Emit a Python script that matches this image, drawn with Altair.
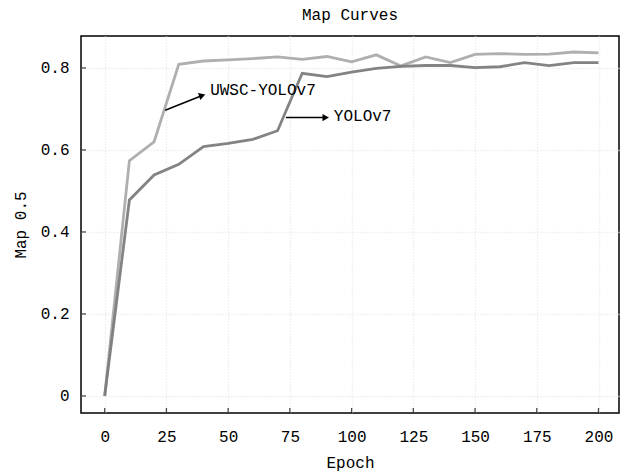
import altair as alt
import pandas as pd

epochs = [0, 10, 20, 30, 40, 50, 60, 70, 80, 90, 100, 110, 120, 130, 140, 150, 160, 170, 180, 190, 200]
uwsc = [0.0, 0.574, 0.620, 0.809, 0.817, 0.820, 0.823, 0.827, 0.821, 0.828, 0.815, 0.832,
        0.805, 0.827, 0.813, 0.833, 0.835, 0.833, 0.834, 0.839, 0.837]
yolo = [0.0, 0.478, 0.539, 0.565, 0.608, 0.616, 0.626, 0.647, 0.787, 0.779, 0.790, 0.799,
        0.804, 0.806, 0.806, 0.801, 0.803, 0.813, 0.806, 0.813, 0.813]
series_names = ["UWSC-YOLOv7", "YOLOv7"]

x_ticks = [0, 25, 50, 75, 100, 125, 150, 175, 200]
y_ticks = [0, 0.2, 0.4, 0.6, 0.8]

# annotation arrows (data coordinates)
arrow_labels = ["UWSC-YOLOv7", "YOLOv7"]
arrow_x0 = [24.5, 73.4]
arrow_y0 = [0.697, 0.679]
arrow_x1 = [39.5, 89.5]
arrow_y1 = [0.733, 0.679]
label_x = [42.7, 92.8]
label_y = [0.746, 0.684]

FONT = "Liberation Mono"

rows = []
for name, vals in zip(series_names, [uwsc, yolo]):
    for e, v in zip(epochs, vals):
        rows.append({"epoch": e, "map": v, "series": name})
df = pd.DataFrame(rows)

xscale = alt.Scale(domain=[-9.6, 208.3], nice=False, zero=False)
yscale = alt.Scale(domain=[-0.0415, 0.878], nice=False, zero=False)

lines = alt.Chart(df).mark_line(strokeWidth=2.8, opacity=0.95).encode(
    x=alt.X("epoch:Q", scale=xscale,
            axis=alt.Axis(values=x_ticks, title="Epoch", grid=True, ticks=False,
                          domain=False, labelPadding=15, titlePadding=10,
                          labelFlush=False)),
    y=alt.Y("map:Q", scale=yscale,
            axis=alt.Axis(values=y_ticks, title="Map 0.5", grid=True, ticks=False,
                          domain=False, labelPadding=12, titlePadding=12,
                          labelFlush=False,
                          labelExpr="datum.value == 0 ? '0' : format(datum.value, '.1f')")),
    color=alt.Color("series:N", scale=alt.Scale(domain=series_names,
                                                 range=["#ababab", "#7c7c7c"]),
                    legend=None),
)

xt = alt.Chart(pd.DataFrame({"t": x_ticks})).mark_tick(
    color="black", thickness=1.3, size=10, clip=True
).encode(x=alt.X("t:Q", scale=xscale), y=alt.value(377))

yt = alt.Chart(pd.DataFrame({"t": y_ticks})).mark_tick(
    color="black", thickness=1.3, size=10, clip=True
).encode(y=alt.Y("t:Q", scale=yscale), x=alt.value(0))

adf = pd.DataFrame({"label": arrow_labels, "x0": arrow_x0, "y0": arrow_y0,
                    "x1": arrow_x1, "y1": arrow_y1, "lx": label_x, "ly": label_y})

shafts = alt.Chart(adf).mark_rule(color="black", strokeWidth=1.5).encode(
    x=alt.X("x0:Q", scale=xscale), y=alt.Y("y0:Q", scale=yscale),
    x2="x1:Q", y2="y1:Q")

head1 = alt.Chart(adf.iloc[[0]]).mark_point(
    shape="triangle-right", filled=True, color="black", size=55, opacity=1, angle=342
).encode(x=alt.X("x1:Q", scale=xscale), y=alt.Y("y1:Q", scale=yscale))

head2 = alt.Chart(adf.iloc[[1]]).mark_point(
    shape="triangle-right", filled=True, color="black", size=55, opacity=1, angle=0
).encode(x=alt.X("x1:Q", scale=xscale), y=alt.Y("y1:Q", scale=yscale))

texts = alt.Chart(adf).mark_text(
    align="left", baseline="middle", font=FONT, fontSize=16, color="black"
).encode(x=alt.X("lx:Q", scale=xscale), y=alt.Y("ly:Q", scale=yscale), text="label:N")

chart = alt.layer(lines, xt, yt, shafts, head1, head2, texts).properties(
    width=538, height=377,
    background="white",
    title=alt.TitleParams("Map Curves", font=FONT, fontSize=16, fontWeight="normal",
                          offset=13, color="black"),
    autosize=alt.AutoSizeParams(type="none"),
    padding={"left": 81, "top": 36, "right": 11, "bottom": 58},
).configure_view(
    stroke="black", strokeWidth=1.5
).configure_axis(
    labelFont=FONT, titleFont=FONT, labelFontSize=16, titleFontSize=16,
    labelColor="black", titleColor="black", titleFontWeight="normal",
    gridColor="#e6e6e6", gridDash=[1, 2], gridWidth=1.5,
)

chart.save("out.html", embed_options={"renderer": "svg", "actions": False})
